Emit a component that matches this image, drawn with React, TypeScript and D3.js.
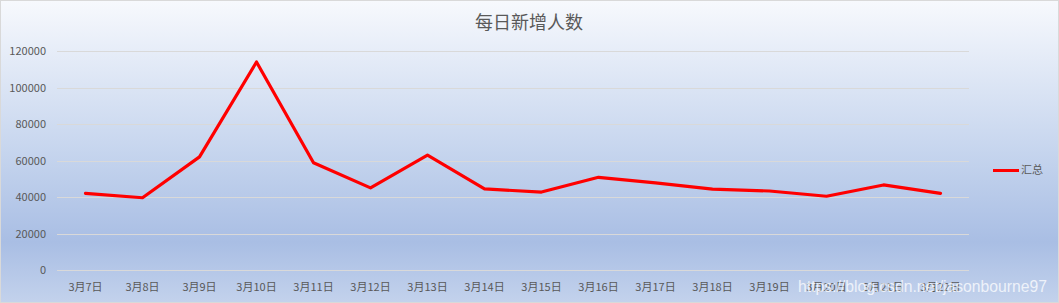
import React from "react";
import * as d3 from "d3";

const categories = ["3月7日","3月8日","3月9日","3月10日","3月11日","3月12日","3月13日","3月14日","3月15日","3月16日","3月17日","3月18日","3月19日","3月20日","3月21日","3月22日"];
const values = [42000, 39600, 62000, 114000, 58800, 45000, 63000, 44400, 42700, 50800, 47700, 44300, 43300, 40400, 46600, 42000];
const yTicks = [0, 20000, 40000, 60000, 80000, 100000, 120000];
const seriesName = "汇总";
const title = "每日新增人数";

const W = 1059, H = 303;
const FONT = "'Noto Sans CJK SC', 'Microsoft YaHei', sans-serif";

export default function App() {
  const x = d3.scaleBand<string>().domain(categories).range([57, 969]);
  const y = d3.scaleLinear().domain([0, 120000]).range([270, 51]);
  const line = d3.line<number>()
    .x((_, i) => (x(categories[i]) as number) + x.bandwidth() / 2)
    .y((d) => y(d));

  return (
    <svg width={W} height={H} style={{ position: "fixed", left: 0, top: 0 }} fontFamily={FONT}>
      <defs>
        <linearGradient id="bg" x1="0" y1="0" x2="0" y2="1">
          <stop offset="0" stopColor="#f7f9fd" />
          <stop offset="0.5" stopColor="#c6d5ee" />
          <stop offset="0.8" stopColor="#a9bee4" />
          <stop offset="1" stopColor="#c3d2ec" />
        </linearGradient>
      </defs>
      <rect x={0.5} y={0.5} width={W - 1} height={H - 1} fill="url(#bg)" stroke="#d9d9d9" />
      <text x={529} y={29} textAnchor="middle" fontSize={18} fill="#595959">{title}</text>
      {yTicks.map((t) => (
        <g key={t}>
          <line x1={57} x2={969} y1={Math.round(y(t)) + 0.5} y2={Math.round(y(t)) + 0.5} stroke="#d9d9d9" strokeWidth={1} />
          <text x={46} y={y(t) + 4} textAnchor="end" fontSize={11} fill="#595959">{t}</text>
        </g>
      ))}
      {categories.map((c) => (
        <text key={c} x={(x(c) as number) + x.bandwidth() / 2} y={291} textAnchor="middle" fontSize={11} fill="#595959">{c}</text>
      ))}
      <path d={line(values) || ""} fill="none" stroke="#ff0000" strokeWidth={3.2} strokeLinejoin="round" strokeLinecap="round" />
      <line x1={993} x2={1019} y1={170.5} y2={170.5} stroke="#ff0000" strokeWidth={3} />
      <text x={1021} y={174} fontSize={11} fill="#595959">{seriesName}</text>
      <text x={798} y={292} fontSize={16} textLength={249} lengthAdjust="spacingAndGlyphs" fill="#ffffff" fillOpacity={0.75} fontFamily="'Liberation Sans', Arial, sans-serif">https://blog.csdn.net/jasonbourne97</text>
    </svg>
  );
}
